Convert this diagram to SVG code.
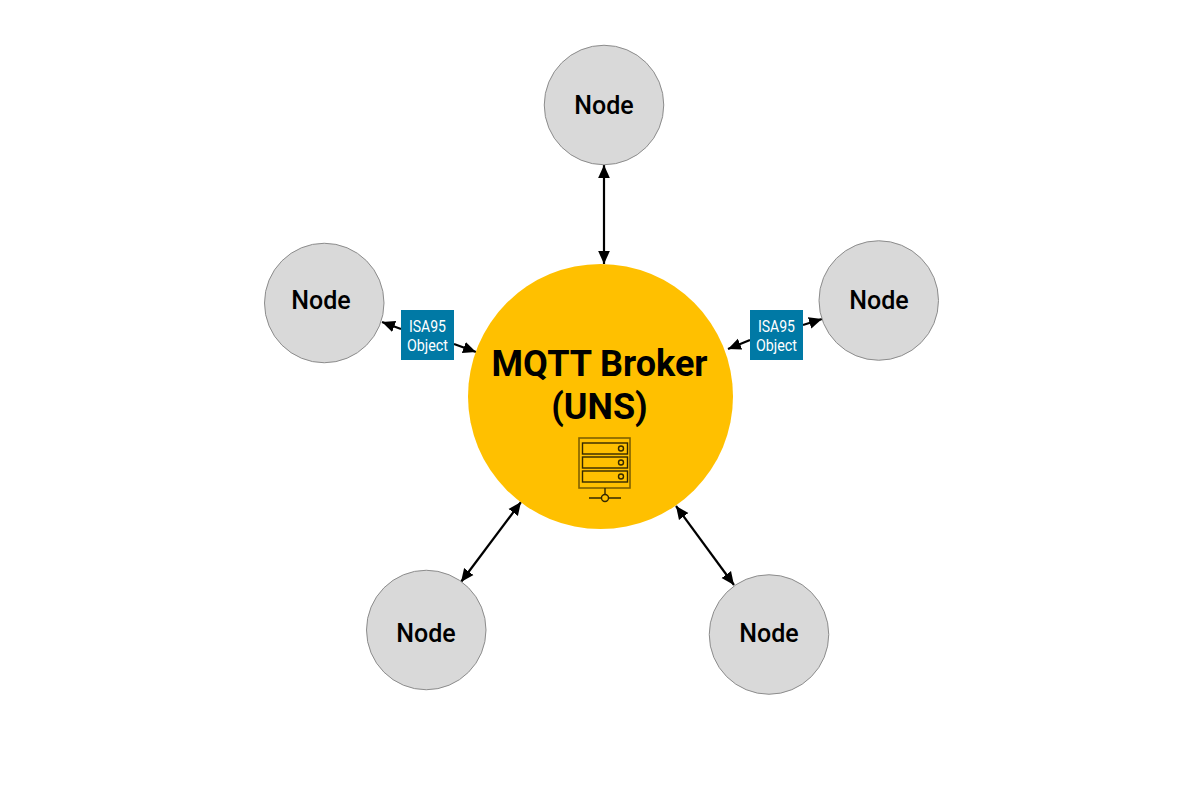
<svg xmlns="http://www.w3.org/2000/svg" width="1200" height="792" viewBox="0 0 1200 792">
<defs>
<marker id="arrow" viewBox="0 0 10 10" refX="10" refY="5" markerWidth="13" markerHeight="13" markerUnits="userSpaceOnUse" orient="auto-start-reverse"><path d="M0 0.5L10 5L0 9.500Z" fill="#000"/></marker>
</defs>
<style>
.node circle{fill:#d9d9d9;stroke:#8c8c8c;stroke-width:1}
.node text{font-family:Roboto,sans-serif;font-size:25px;font-weight:500;fill:#000;text-anchor:middle}
.c{fill:none;stroke:#000;stroke-width:2.200;marker-end:url(#arrow)}
.b{marker-start:url(#arrow)}
.tag rect{fill:#0079a5}
.tag text{font-family:Roboto,sans-serif;font-size:16px;fill:#fff;text-anchor:middle}
.ic{fill:none;stroke:#332800;stroke-width:1.400}
</style>
<rect width="1200" height="792" fill="#fff"/>
<g id="connectors">
<path class="c b" d="M604 165V264"/>
<path class="c" d="M401 329L382 322"/>
<path class="c" d="M454 344L476 352"/>
<path class="c" d="M803 325L822 319"/>
<path class="c" d="M750 340L728 349"/>
<path class="c b" d="M461 582L521 502"/>
<path class="c b" d="M734 585L676 506"/>
</g>
<g id="broker">
<circle cx="600.500" cy="396.500" r="132.500" fill="#ffc000"/>
<text x="599.500" y="376" font-family="Roboto,sans-serif" font-size="36" font-weight="700" text-anchor="middle">MQTT Broker</text>
<text x="599.500" y="419" font-family="Roboto,sans-serif" font-size="36" font-weight="700" text-anchor="middle">(UNS)</text>
<g id="server-icon" class="ic">
<rect x="579" y="438" width="51" height="50" stroke="#7f6000" stroke-width="1.600"/>
<rect x="582.500" y="443" width="45" height="11"/>
<rect x="582.500" y="457" width="45" height="11"/>
<rect x="582.500" y="471" width="45" height="11"/>
<circle cx="621" cy="448.500" r="2.500"/>
<circle cx="621" cy="462.500" r="2.500"/>
<circle cx="621" cy="476.500" r="2.500"/>
<path d="M605 488V494.500M589 498H601.500M608.500 498H621"/>
<circle cx="605" cy="498" r="3.500"/>
</g>
</g>
<g id="node-top" class="node"><circle cx="604" cy="105" r="59.750"/><text x="604" y="113.500">Node</text></g>
<g id="node-left" class="node"><circle cx="324.250" cy="303" r="59.750"/><text x="321" y="308.500">Node</text></g>
<g id="node-right" class="node"><circle cx="878.750" cy="300.500" r="59.750"/><text x="879" y="308.500">Node</text></g>
<g id="node-bottom-left" class="node"><circle cx="426.250" cy="630" r="59.750"/><text x="426" y="641.500">Node</text></g>
<g id="node-bottom-right" class="node"><circle cx="769" cy="634.500" r="59.750"/><text x="769" y="641.500">Node</text></g>
<g id="tag-left" class="tag"><rect x="401" y="310" width="53" height="50"/><text x="427.500" y="331.500" textLength="37" lengthAdjust="spacingAndGlyphs">ISA95</text><text x="427.500" y="350.500" textLength="41" lengthAdjust="spacingAndGlyphs">Object</text></g>
<g id="tag-right" class="tag"><rect x="750" y="310" width="53" height="50"/><text x="776.500" y="331.500" textLength="37" lengthAdjust="spacingAndGlyphs">ISA95</text><text x="776.500" y="350.500" textLength="41" lengthAdjust="spacingAndGlyphs">Object</text></g>
</svg>
